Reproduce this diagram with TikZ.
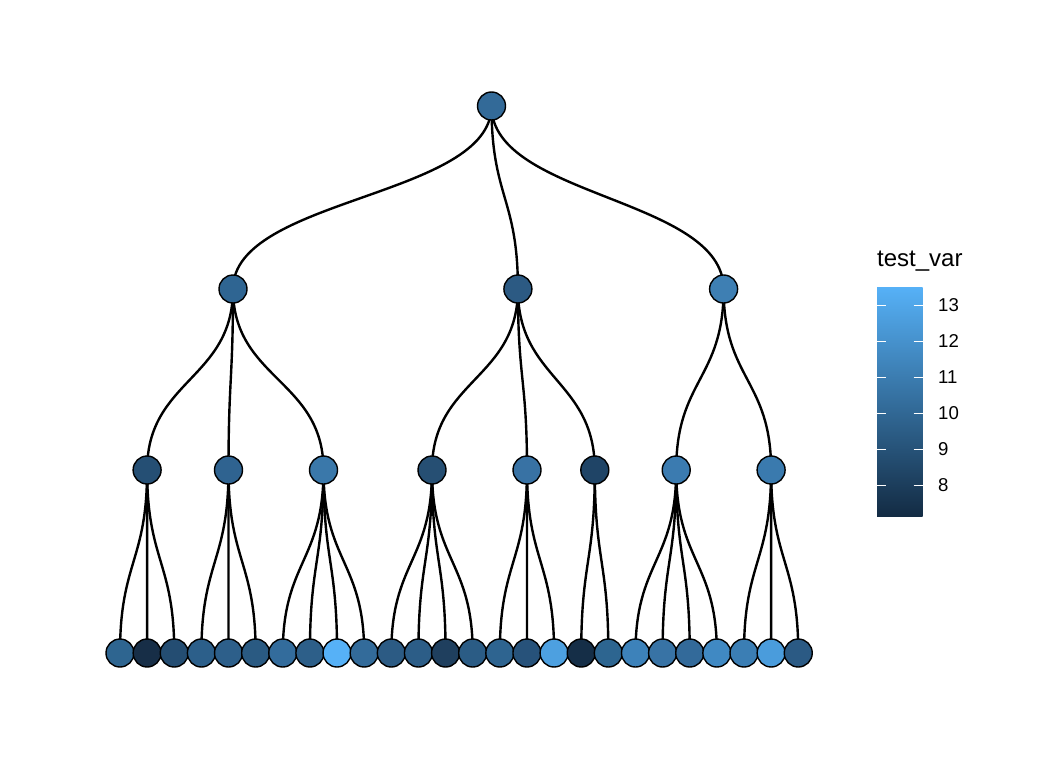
\documentclass[tikz,border=0pt]{standalone}
\usepackage{fontspec}
\setmainfont{Liberation Sans}
\pgfdeclarelayer{bg}
\pgfsetlayers{bg,main}
\definecolor{lowc}{HTML}{132B43}
\definecolor{highc}{HTML}{56B1F7}
\definecolor{midc}{HTML}{346E9D}
\tikzset{
  vtx/.style={circle, draw=black, line width=1.4pt, minimum size=28pt, inner sep=0pt,
    /utils/exec={\definecolor{vtxfill}{HTML}{#1}}, fill=vtxfill},
  edge/.style={line width=2.4pt, black},
  tickw/.style={white, line width=0.9pt},
  lbl/.style={anchor=base west, inner sep=0pt, font=\fontsize{18.6}{20}\selectfont},
}
\newcommand{\diag}[3]{\draw[edge] (#1.center) .. controls +(0,#3) and +(0,-#3) .. (#2.center);}
\begin{document}
\begin{tikzpicture}[x=1pt,y=-1pt]
\useasboundingbox (0,0) rectangle (1056,768);
% root and inner levels
\node[vtx=336A98] (r) at (491.5,106) {};
\node[vtx=2F6592] (a) at (233.0,289) {};
\node[vtx=2C5A83] (b) at (517.9,289) {};
\node[vtx=3E7FB3] (c) at (723.6,289) {};
\node[vtx=254F74] (a1) at (147.1,470) {};
\node[vtx=2F6390] (a2) at (228.5,470) {};
\node[vtx=3A78AA] (a3) at (323.5,470) {};
\node[vtx=264F73] (b1) at (432.0,470) {};
\node[vtx=3872A4] (b2) at (527.0,470) {};
\node[vtx=1F4466] (b3) at (594.8,470) {};
\node[vtx=3B7BB0] (c1) at (676.2,470) {};
\node[vtx=3A7AAE] (c2) at (771.1,470) {};
% leaves
\node[vtx=2E6590] (l1) at (120.00,653) {};
\node[vtx=172E47] (l2) at (147.13,653) {};
\node[vtx=244D72] (l3) at (174.26,653) {};
\node[vtx=2C5F8A] (l4) at (201.39,653) {};
\node[vtx=2D5F8A] (l5) at (228.52,653) {};
\node[vtx=2A5A82] (l6) at (255.65,653) {};
\node[vtx=336C9C] (l7) at (282.78,653) {};
\node[vtx=2D5F89] (l8) at (309.91,653) {};
\node[vtx=56B1F7] (l9) at (337.04,653) {};
\node[vtx=336B9A] (l10) at (364.17,653) {};
\node[vtx=2C5B84] (l11) at (391.30,653) {};
\node[vtx=2C5D87] (l12) at (418.43,653) {};
\node[vtx=1F3F5E] (l13) at (445.56,653) {};
\node[vtx=2B5C85] (l14) at (472.69,653) {};
\node[vtx=2E6490] (l15) at (499.82,653) {};
\node[vtx=27527A] (l16) at (526.95,653) {};
\node[vtx=4DA0E0] (l17) at (554.08,653) {};
\node[vtx=152E47] (l18) at (581.21,653) {};
\node[vtx=2D6590] (l19) at (608.34,653) {};
\node[vtx=3D82BA] (l20) at (635.47,653) {};
\node[vtx=3873A5] (l21) at (662.60,653) {};
\node[vtx=336A9A] (l22) at (689.73,653) {};
\node[vtx=4089C3] (l23) at (716.86,653) {};
\node[vtx=3B7EB4] (l24) at (743.99,653) {};
\node[vtx=4A9CDC] (l25) at (771.12,653) {};
\node[vtx=2B5A84] (l26) at (798.25,653) {};
\begin{pgfonlayer}{bg}
\foreach \ch in {a,b,c}{\diag{r}{\ch}{91.5}}
\foreach \ch in {a1,a2,a3}{\diag{a}{\ch}{90.5}}
\foreach \ch in {b1,b2,b3}{\diag{b}{\ch}{90.5}}
\foreach \ch in {c1,c2}{\diag{c}{\ch}{90.5}}
\foreach \ch in {1,2,3}{\diag{a1}{l\ch}{91.5}}
\foreach \ch in {4,5,6}{\diag{a2}{l\ch}{91.5}}
\foreach \ch in {7,8,9,10}{\diag{a3}{l\ch}{91.5}}
\foreach \ch in {11,12,13,14}{\diag{b1}{l\ch}{91.5}}
\foreach \ch in {15,16,17}{\diag{b2}{l\ch}{91.5}}
\foreach \ch in {18,19}{\diag{b3}{l\ch}{91.5}}
\foreach \ch in {20,21,22,23}{\diag{c1}{l\ch}{91.5}}
\foreach \ch in {24,25,26}{\diag{c2}{l\ch}{91.5}}
\end{pgfonlayer}
% legend
\node[anchor=base west, inner sep=0pt, font=\fontsize{24}{26}\selectfont] (title) at (877,266) {test\_var};
\shade[bottom color=lowc, top color=highc, middle color=midc] (877,287) rectangle (922.5,516.5);
\foreach \v/\yy in {13/305,12/341,11/377,10/413,9/449,8/485}{
  \draw[tickw] (877,\yy) -- (886,\yy);
  \draw[tickw] (913.5,\yy) -- (922.5,\yy);
  \node[lbl] at (938,\yy+6.7) {\v};
}
\end{tikzpicture}
\end{document}
